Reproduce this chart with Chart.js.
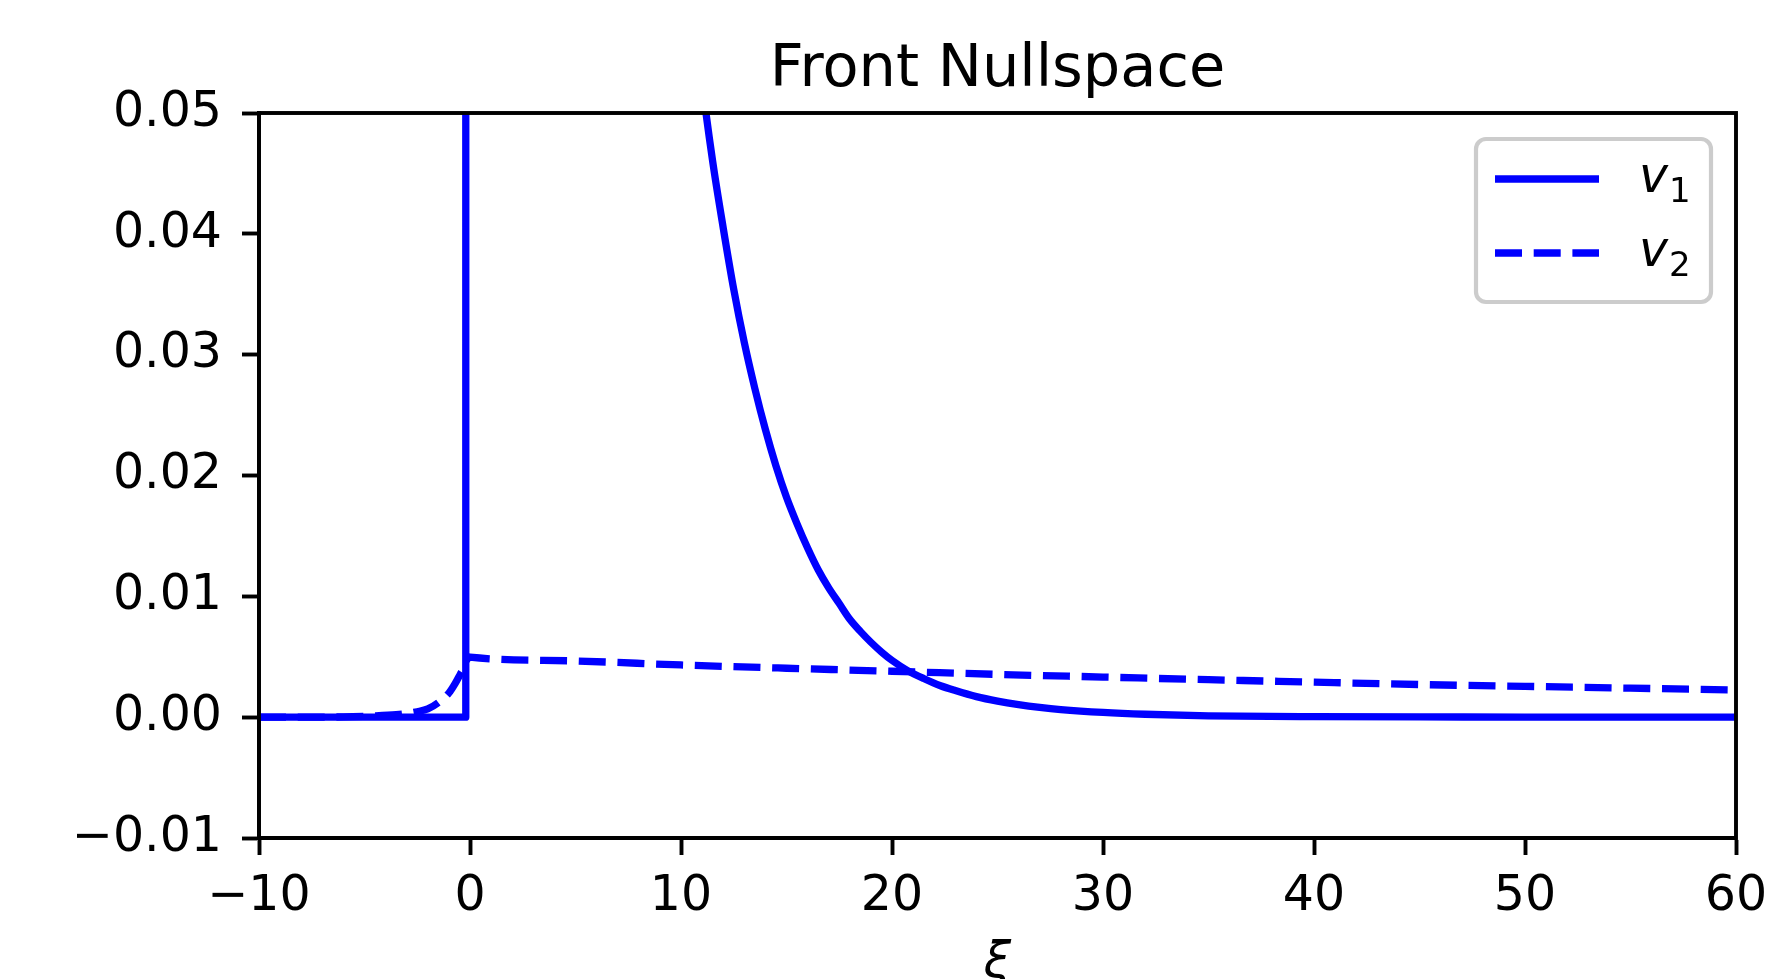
<!DOCTYPE html>
<html>
<head>
<meta charset="utf-8">
<script src="https://cdn.jsdelivr.net/npm/chart.js@4.4.1/dist/chart.umd.min.js"></script>
<style>
  body { margin: 0; background: #fff; }
  canvas { display: block; }
</style>
</head>
<body>
<canvas id="nullspaceChart" width="1773" height="979"></canvas>
<script>
// values
const v1X = [-10, -0.2, -0.2, 2, 5, 8, 9.5, 10.5, 11.0, 11.5, 12.0, 12.5, 13.0, 13.5, 14.0, 14.5, 15.0, 15.5,
  16.0, 16.5, 17.0, 17.5, 18.0, 18.5, 19.0, 19.5, 20.0, 20.7, 21.5, 22.3, 23.0, 24.0, 25.0, 26.0, 27.0, 28.0,
  30.0, 32.0, 35.0, 40.0, 45.0, 50.0, 60.0];
const v1Y = [0, 0, 0.95, 0.55, 0.26, 0.118, 0.0785, 0.0600, 0.0525, 0.0460, 0.0405, 0.0354, 0.0310, 0.0272,
  0.0238, 0.0208, 0.0182, 0.0160, 0.0140, 0.0122, 0.0107, 0.0094, 0.0081, 0.0071, 0.0062, 0.0054, 0.0047,
  0.0039, 0.0032, 0.0026, 0.0022, 0.0017, 0.00133, 0.00104, 0.00081, 0.00063, 0.00039, 0.00024, 0.00011,
  0.00004, 0.00002, 0.00001, 0.0];

const v2X = [-10, -6, -4.5, -3.5, -3.0, -2.5, -2.0, -1.5, -1.0, -0.7, -0.45, -0.2, -0.1, 0, 5, 10, 15, 20,
  25, 30, 35, 40, 45, 50, 55, 60];
const v2Y = [0, 0.00002, 0.0001, 0.0002, 0.0003, 0.00045, 0.00068, 0.0012, 0.0020, 0.0028, 0.0036, 0.0044,
  0.0050, 0.00496, 0.00465, 0.00432, 0.00405, 0.0038, 0.00354, 0.00332, 0.0031, 0.0029, 0.0027, 0.00255,
  0.0024, 0.00225];

const xTicks = [-10, 0, 10, 20, 30, 40, 50, 60];
const xTickLabels = ['\u221210', '0', '10', '20', '30', '40', '50', '60'];
const yTicks = [-0.01, 0, 0.01, 0.02, 0.03, 0.04, 0.05];
const yTickLabels = ['\u22120.01', '0.00', '0.01', '0.02', '0.03', '0.04', '0.05'];

const chartTitle = 'Front Nullspace';
const seriesNames = ['v', 'v'];
const seriesSubs = ['1', '2'];

const LW = 7.3;
const AXW = 3.9;
const DASH = [27, 11.7];

Chart.defaults.font.family = 'DejaVu Sans';
Chart.defaults.color = '#000';

const toPoints = (xs, ys) => xs.map((x, i) => ({ x: x, y: ys[i] }));

// box round the axes (all four spines) plus the title centred over the axes
const framePlugin = {
  id: 'frame',
  afterDatasetsDraw(chart) {
    const { ctx, chartArea: a } = chart;
    ctx.save();
    ctx.strokeStyle = '#000';
    ctx.lineWidth = AXW;
    ctx.lineJoin = 'miter';
    ctx.strokeRect(a.left, a.top, a.right - a.left, a.bottom - a.top);

    ctx.fillStyle = '#000';
    ctx.font = '59px "DejaVu Sans"';
    ctx.textAlign = 'center';
    ctx.textBaseline = 'alphabetic';
    ctx.fillText(chartTitle, (a.left + a.right) / 2, a.top - 27);
    ctx.restore();
  }
};

function roundRect(ctx, x, y, w, h, r) {
  ctx.beginPath();
  ctx.moveTo(x + r, y);
  ctx.arcTo(x + w, y, x + w, y + h, r);
  ctx.arcTo(x + w, y + h, x, y + h, r);
  ctx.arcTo(x, y + h, x, y, r);
  ctx.arcTo(x, y, x + w, y, r);
  ctx.closePath();
}

const legendPlugin = {
  id: 'mplLegend',
  afterDraw(chart) {
    const { ctx, chartArea: a } = chart;
    const w = 235, h = 163;
    const x = a.right - 25 - w, y = a.top + 26;
    ctx.save();
    roundRect(ctx, x, y, w, h, 10);
    ctx.fillStyle = 'rgba(255,255,255,0.8)';
    ctx.fill();
    ctx.strokeStyle = '#cccccc';
    ctx.lineWidth = 4.2;
    ctx.stroke();

    chart.data.datasets.forEach((ds, i) => {
      const ly = y + 40 + i * 74;
      ctx.beginPath();
      ctx.strokeStyle = ds.borderColor;
      ctx.lineWidth = LW;
      ctx.lineCap = 'butt';
      ctx.setLineDash(ds.borderDash || []);
      ctx.moveTo(x + 19, ly);
      ctx.lineTo(x + 123, ly);
      ctx.stroke();
      ctx.setLineDash([]);

      ctx.fillStyle = '#000';
      ctx.textBaseline = 'alphabetic';
      ctx.textAlign = 'left';
      ctx.font = 'italic 49px "DejaVu Sans"';
      const tx = x + 163;
      const base = ly + 13;
      ctx.fillText(seriesNames[i], tx, base);
      const vw = ctx.measureText(seriesNames[i]).width;
      ctx.font = '34px "DejaVu Sans"';
      ctx.fillText(seriesSubs[i], tx + vw + 1, base + 10);
    });
    ctx.restore();
  }
};

const ctx = document.getElementById('nullspaceChart').getContext('2d');

new Chart(ctx, {
  type: 'line',
  data: {
    datasets: [
      {
        label: 'v1',
        data: toPoints(v1X, v1Y),
        borderColor: '#0000ff',
        borderWidth: LW,
        borderJoinStyle: 'round',
        pointRadius: 0,
        cubicInterpolationMode: 'monotone',
        fill: false,
        clip: 0
      },
      {
        label: 'v2',
        data: toPoints(v2X, v2Y),
        borderColor: '#0000ff',
        borderWidth: LW,
        borderDash: DASH,
        borderCapStyle: 'butt',
        borderJoinStyle: 'round',
        pointRadius: 0,
        cubicInterpolationMode: 'monotone',
        fill: false,
        clip: 0
      }
    ]
  },
  options: {
    responsive: false,
    animation: false,
    devicePixelRatio: 1,
    layout: { padding: { left: 0, right: 37, top: 113, bottom: 0 } },
    plugins: {
      legend: { display: false },
      tooltip: { enabled: false },
      title: { display: false }
    },
    scales: {
      x: {
        type: 'linear',
        min: -10,
        max: 60,
        afterBuildTicks: s => { s.ticks = xTicks.map(v => ({ value: v })); },
        afterFit: s => { s.height = 141; s.paddingLeft = 0; s.paddingRight = 0; },
        ticks: {
          autoSkip: false,
          maxRotation: 0,
          padding: 13,
          font: { size: 49 },
          callback: (v, i) => xTickLabels[i]
        },
        grid: {
          drawOnChartArea: false,
          drawTicks: true,
          tickLength: 17,
          tickWidth: AXW,
          tickColor: '#000'
        },
        border: { display: true, color: '#000', width: AXW },
        title: {
          display: true,
          text: '\u03be',
          font: { size: 49, style: 'italic', lineHeight: 0.7 },
          padding: { top: 0, bottom: -2 }
        }
      },
      y: {
        type: 'linear',
        min: -0.01,
        max: 0.05,
        afterBuildTicks: s => { s.ticks = yTicks.map(v => ({ value: v })); },
        afterFit: s => { s.width = 259; s.paddingTop = 0; s.paddingBottom = 0; },
        ticks: {
          autoSkip: false,
          padding: 20,
          font: { size: 49 },
          callback: (v, i) => yTickLabels[i]
        },
        grid: {
          drawOnChartArea: false,
          drawTicks: true,
          tickLength: 17,
          tickWidth: AXW,
          tickColor: '#000'
        },
        border: { display: true, color: '#000', width: AXW }
      }
    }
  },
  plugins: [framePlugin, legendPlugin]
});
</script>
</body>
</html>
